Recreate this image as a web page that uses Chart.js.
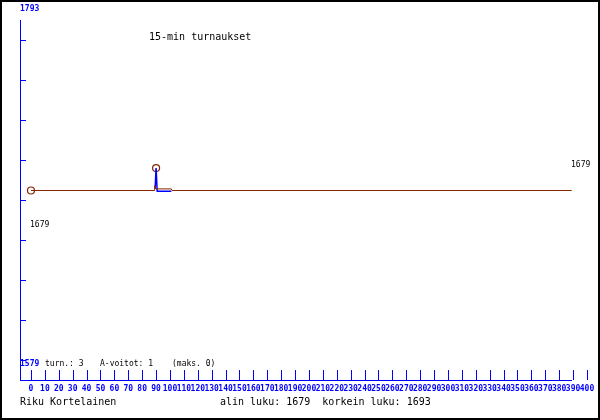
<!DOCTYPE html>
<html><head><meta charset="utf-8">
<script src="https://cdn.jsdelivr.net/npm/chart.js@4/dist/chart.umd.min.js"></script>
<style>html,body{margin:0;padding:0;background:#fff}canvas{display:block}</style>
</head><body>
<canvas id="c" width="600" height="420"></canvas>
<script>
// ---- data ----
const titleText = '15-min turnaukset';
const playerName = 'Riku Kortelainen';
const footerStats = 'alin luku: 1679  korkein luku: 1693';
const statsLine = ['turn.: 3', 'A-voitot: 1', '(maks. 0)'];
const yAxisLabels = ['1793', '1579'];
const startLabel = '1679';
const endLabel = '1679';
const xTickValues = [0,10,20,30,40,50,60,70,80,90,100,110,120,130,140,150,160,170,180,190,200,210,220,230,240,250,260,270,280,290,300,310,320,330,340,350,360,370,380,390,400];
const xTickLabels = ['0','10','20','30','40','50','60','70','80','90','100','110','120','130','140','150','160','170','180','190','200','210','220','230','240','250','260','270','280','290','300','310','320','330','340','350','360','370','380','390','400'];
// rating (brown) line
const ratingX = [0, 89, 89, 90, 101, 101.5, 389];
const ratingY = [1679, 1679, 1682, 1680, 1680, 1679, 1679];
// blue line
const blueX = [89.3, 90, 90.8, 101];
const blueY = [1680, 1693, 1678.5, 1678.5];
// circle markers
const markerX = [0, 90];
const markerY = [1679, 1693];

const X_MIN = -7.9, X_MAX = 400, X_AXIS_END = 389;
const Y_MIN = 1560.56, Y_MAX = 1785.56;
const yTickValues = [1773.06, 1748.06, 1723.06, 1698.06, 1673.06, 1648.06, 1623.06, 1598.06, 1573.06];

const BLUE = '#0000ff', BROWN = '#842400';
const MONO = '"DejaVu Sans Mono", "Liberation Mono", monospace';

const toPts = (xs, ys) => xs.map((x, i) => ({x, y: ys[i]}));

const decor = {
  id: 'decor',
  beforeDraw(chart) {
    const ctx = chart.ctx;
    ctx.save();
    ctx.fillStyle = '#fff';
    ctx.fillRect(0, 0, chart.width, chart.height);
    ctx.restore();
  },
  afterDraw(chart) {
    const ctx = chart.ctx, xs = chart.scales.x, ys = chart.scales.y, ca = chart.chartArea;
    ctx.save();
    // axes
    ctx.strokeStyle = BLUE; ctx.lineWidth = 1;
    ctx.beginPath();
    ctx.moveTo(ca.left + 0.5, ca.top); ctx.lineTo(ca.left + 0.5, ca.bottom + 1);
    ctx.moveTo(ca.left, ca.bottom + 0.5); ctx.lineTo(Math.round(xs.getPixelForValue(X_AXIS_END)), ca.bottom + 0.5);
    yTickValues.forEach(v => {
      const py = Math.round(ys.getPixelForValue(v)) + 0.5;
      ctx.moveTo(ca.left, py); ctx.lineTo(ca.left + 6, py);
    });
    xTickValues.forEach(v => {
      const px = Math.round(xs.getPixelForValue(v)) + 0.5;
      ctx.moveTo(px, ca.bottom - 10); ctx.lineTo(px, ca.bottom);
    });
    ctx.stroke();
    // x tick labels
    ctx.fillStyle = BLUE;
    ctx.font = 'bold 8px ' + MONO;
    ctx.textAlign = 'center'; ctx.textBaseline = 'middle';
    xTickValues.forEach((v, i) => ctx.fillText(xTickLabels[i], xs.getPixelForValue(v), ca.bottom + 9));
    // y labels
    ctx.font = 'bold 8px ' + MONO;
    ctx.textAlign = 'left';
    ctx.fillText(yAxisLabels[0], ca.left, 8.5);
    ctx.fillText(yAxisLabels[1], ca.left, 364);
    // black small labels
    ctx.fillStyle = '#000';
    ctx.font = '8px ' + MONO;
    ctx.fillText(statsLine[0], 45, 364);
    ctx.fillText(statsLine[1], 100, 364);
    ctx.fillText(statsLine[2], 172, 364);
    ctx.fillText(startLabel, 30, 225);
    ctx.fillText(endLabel, 571, 165);
    // big texts
    ctx.font = '10px ' + MONO;
    ctx.fillText(titleText, 149, 37.5);
    ctx.fillText(playerName, 20, 402.5);
    ctx.fillText(footerStats, 220, 402.5);
    // frame
    ctx.strokeStyle = '#000'; ctx.lineWidth = 2;
    ctx.strokeRect(1, 1, chart.width - 2, chart.height - 2);
    ctx.restore();
  }
};

new Chart(document.getElementById('c'), {
  type: 'scatter',
  data: {
    datasets: [
      { data: toPts(ratingX, ratingY), showLine: true, borderColor: BROWN, borderWidth: 1, pointRadius: 0, tension: 0 },
      { data: toPts(blueX, blueY), showLine: true, borderColor: BLUE, borderWidth: 1.5, pointRadius: 0, tension: 0 },
      { data: toPts(markerX, markerY), showLine: false, pointRadius: 3.5, pointStyle: 'circle', borderColor: BROWN, backgroundColor: 'rgba(0,0,0,0)', borderWidth: 1.2 }
    ]
  },
  options: {
    responsive: false,
    animation: false,
    events: [],
    layout: { padding: { left: 20, right: 13, top: 20, bottom: 40 } },
    plugins: { legend: { display: false }, tooltip: { enabled: false }, title: { display: false } },
    scales: {
      x: { type: 'linear', min: X_MIN, max: X_MAX, display: false },
      y: { type: 'linear', min: Y_MIN, max: Y_MAX, display: false }
    }
  },
  plugins: [decor]
});
</script>
</body></html>
